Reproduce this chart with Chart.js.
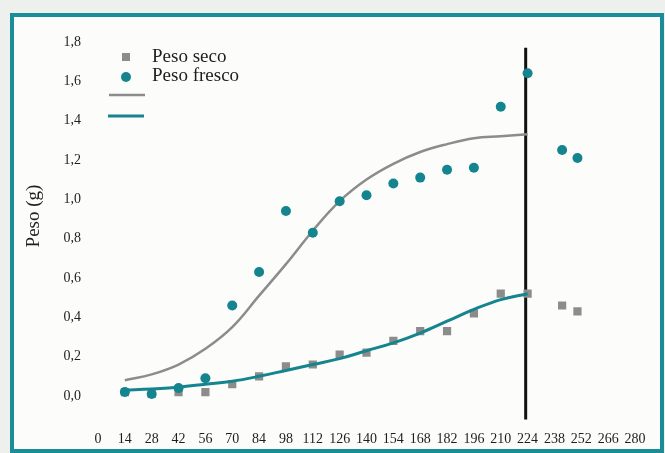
<!DOCTYPE html>
<html>
<head>
<meta charset="utf-8">
<script src="https://cdn.jsdelivr.net/npm/chart.js@4/dist/chart.umd.min.js"></script>
<style>
  html, body { margin: 0; padding: 0; background: #eef0ee; }
  #marco {
    position: absolute; left: 10px; top: 13px; width: 654px; height: 440px;
    box-sizing: border-box; border: 4px solid #1b8d98; background: #fcfcfb;
  }
  #grafico { position: absolute; left: 0; top: 0; }
</style>
</head>
<body>
<div id="marco"></div>
<canvas id="grafico" width="665" height="453"></canvas>
<script>
// Muestreos (días) y pesos medidos en gramos
const diasMuestreo = [14, 28, 42, 56, 70, 84, 98, 112, 126, 140, 154, 168, 182, 196, 210, 224, 242, 250];
const pesoSeco = [0.02, 0.01, 0.02, 0.02, 0.06, 0.10, 0.15, 0.16, 0.21, 0.22, 0.28, 0.33, 0.33, 0.42, 0.52, 0.52, 0.46, 0.43];
const pesoFresco = [0.02, 0.01, 0.04, 0.09, 0.46, 0.63, 0.94, 0.83, 0.99, 1.02, 1.08, 1.11, 1.15, 1.16, 1.47, 1.64, 1.25, 1.21];

// Curvas de ajuste
const diasAjuste = [14, 28, 42, 56, 70, 84, 98, 112, 126, 140, 154, 168, 182, 196, 210, 224];
const ajusteFresco = [0.08, 0.11, 0.16, 0.24, 0.35, 0.51, 0.67, 0.84, 0.99, 1.10, 1.18, 1.24, 1.28, 1.31, 1.32, 1.33];
const ajusteSeco = [0.03, 0.035, 0.045, 0.06, 0.075, 0.10, 0.13, 0.16, 0.19, 0.23, 0.27, 0.32, 0.38, 0.44, 0.49, 0.52];

// Línea vertical de corte
const corteDia = 223;
const corteRango = [-0.12, 1.77];

const ticksX = [0, 14, 28, 42, 56, 70, 84, 98, 112, 126, 140, 154, 168, 182, 196, 210, 224, 238, 252, 266, 280];
const ticksY = [0, 0.2, 0.4, 0.6, 0.8, 1.0, 1.2, 1.4, 1.6, 1.8];

const TEAL = '#14858f';
const GRIS = '#8c8c8c';
const SERIF = '"Liberation Serif", "DejaVu Serif", serif';

const pares = (xs, ys) => xs.map((x, i) => ({ x: x, y: ys[i] }));

// leyenda y título del eje dibujados a mano
const extras = {
  id: 'extras',
  afterDraw(chart) {
    const ctx = chart.ctx;
    const seco = chart.data.datasets.find(d => d.label === 'Peso seco');
    const fresco = chart.data.datasets.find(d => d.label === 'Peso fresco');
    ctx.save();
    ctx.font = '19px ' + SERIF;
    ctx.textBaseline = 'middle';

    ctx.fillStyle = seco.backgroundColor;
    ctx.fillRect(122, 53, 8, 8);
    ctx.fillStyle = '#1e1e1e';
    ctx.fillText(seco.label, 152, 57);

    ctx.fillStyle = fresco.backgroundColor;
    ctx.beginPath();
    ctx.arc(126, 77, 5, 0, Math.PI * 2);
    ctx.fill();
    ctx.fillStyle = '#1e1e1e';
    ctx.fillText(fresco.label, 152, 76);

    ctx.lineWidth = 2.5;
    ctx.strokeStyle = GRIS;
    ctx.beginPath(); ctx.moveTo(109, 95); ctx.lineTo(145, 95); ctx.stroke();
    ctx.lineWidth = 3;
    ctx.strokeStyle = TEAL;
    ctx.beginPath(); ctx.moveTo(108, 116); ctx.lineTo(144, 116); ctx.stroke();

    ctx.translate(34, 216);
    ctx.rotate(-Math.PI / 2);
    ctx.textAlign = 'center';
    ctx.fillText('Peso (g)', 0, 0);
    ctx.restore();
  }
};

new Chart(document.getElementById('grafico').getContext('2d'), {
  type: 'scatter',
  data: {
    datasets: [
      {
        label: 'Peso fresco',
        data: pares(diasMuestreo, pesoFresco),
        pointStyle: 'circle',
        pointRadius: 5,
        backgroundColor: TEAL,
        borderWidth: 0
      },
      {
        label: 'Ajuste peso seco',
        data: pares(diasAjuste, ajusteSeco),
        showLine: true,
        pointRadius: 0,
        borderColor: TEAL,
        borderWidth: 3,
        tension: 0.4
      },
      {
        label: 'Peso seco',
        data: pares(diasMuestreo, pesoSeco),
        pointStyle: 'rect',
        pointRadius: 5.8,
        backgroundColor: GRIS,
        borderWidth: 0
      },
      {
        label: 'Ajuste peso fresco',
        data: pares(diasAjuste, ajusteFresco),
        showLine: true,
        pointRadius: 0,
        borderColor: GRIS,
        borderWidth: 2.5,
        tension: 0.4
      },
      {
        label: 'Corte',
        data: pares([corteDia, corteDia], corteRango),
        showLine: true,
        pointRadius: 0,
        borderColor: '#111',
        borderWidth: 3
      }
    ]
  },
  options: {
    responsive: false,
    animation: false,
    devicePixelRatio: 1,
    layout: { padding: { left: 16, top: 32, right: 30, bottom: 7.5 } },
    plugins: {
      legend: { display: false },
      tooltip: { enabled: false }
    },
    scales: {
      x: {
        type: 'linear',
        min: 0,
        max: 280,
        grid: { display: false, drawTicks: false },
        border: { display: false },
        afterBuildTicks: s => { s.ticks = ticksX.map(v => ({ value: v })); },
        afterFit: s => { s.height = 20; },
        ticks: {
          padding: 5,
          maxRotation: 0,
          autoSkip: false,
          color: '#1e1e1e',
          font: { family: SERIF, size: 14 },
          callback: v => String(v)
        }
      },
      y: {
        min: -0.15,
        max: 1.85,
        grid: { display: false, drawTicks: false },
        border: { display: false },
        afterBuildTicks: s => { s.ticks = ticksY.map(v => ({ value: v })); },
        afterFit: s => { s.width = 82; },
        ticks: {
          padding: 17,
          color: '#1e1e1e',
          font: { family: SERIF, size: 14 },
          callback: v => v.toFixed(1).replace('.', ',')
        }
      }
    }
  },
  plugins: [extras]
});
</script>
</body>
</html>
